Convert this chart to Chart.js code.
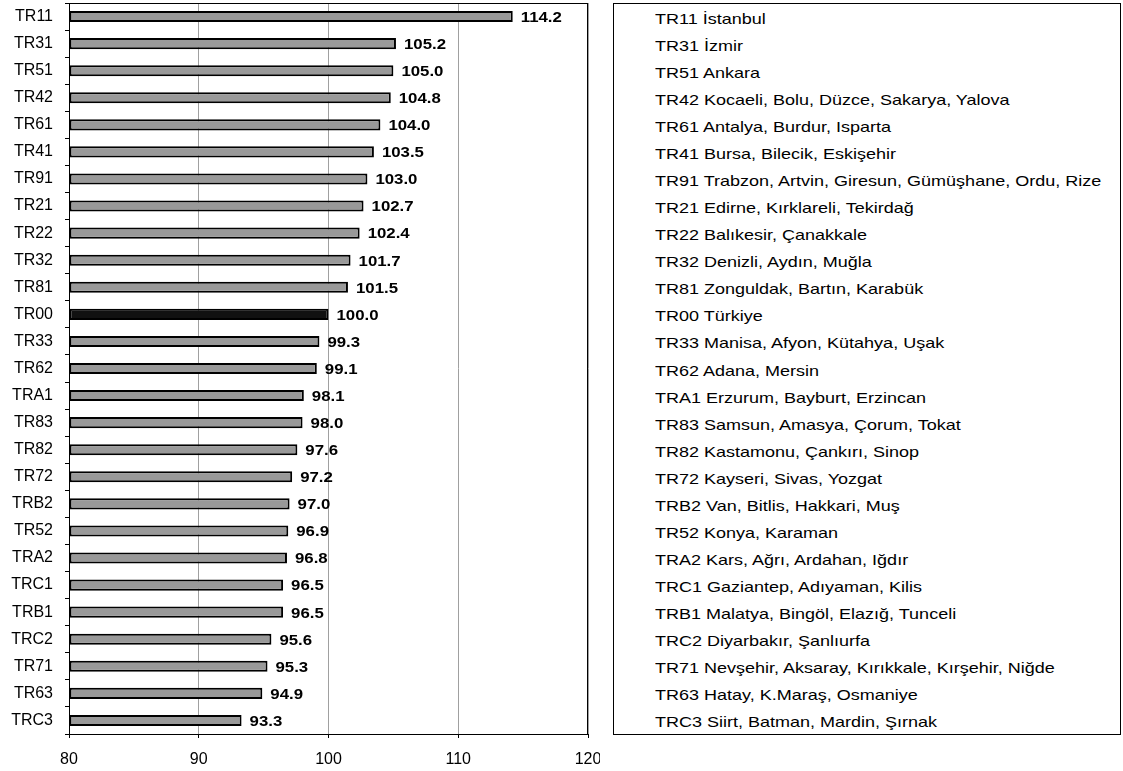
<!DOCTYPE html>
<html>
<head>
<meta charset="utf-8">
<script src="https://cdn.jsdelivr.net/npm/chart.js@4.4.0/dist/chart.umd.min.js"></script>
<style>
  body { margin: 0; background: #fff; font-family: "Liberation Sans", Arial, sans-serif; }
  #wrap { position: relative; width: 1123px; height: 771px; }
  #chart { position: absolute; left: 0; top: 0; }
  #names { position: absolute; left: 613px; top: 3px; width: 508px; height: 732px;
           border: 1px solid #000; box-sizing: border-box; }
  #names div { position: absolute; left: 41px; font-size: 15px; line-height: 16px; color: #000;
               white-space: nowrap; transform: scaleX(1.2); transform-origin: left top; }
</style>
</head>
<body>
<div id="wrap">
  <canvas id="chart" width="600" height="771"></canvas>
  <div id="names"></div>
</div>
<script>
// region codes, top to bottom
const codes = ['TR11', 'TR31', 'TR51', 'TR42', 'TR61', 'TR41', 'TR91', 'TR21', 'TR22', 'TR32',
  'TR81', 'TR00', 'TR33', 'TR62', 'TRA1', 'TR83', 'TR82', 'TR72', 'TRB2', 'TR52',
  'TRA2', 'TRC1', 'TRB1', 'TRC2', 'TR71', 'TR63', 'TRC3'];

// index values (Türkiye = 100)
const values = [114.2, 105.2, 105.0, 104.8, 104.0, 103.5, 103.0, 102.7, 102.4, 101.7,
  101.5, 100.0, 99.3, 99.1, 98.1, 98.0, 97.6, 97.2, 97.0, 96.9,
  96.8, 96.5, 96.5, 95.6, 95.3, 94.9, 93.3];

// region names shown in the right-hand box
const regionNames = ['İstanbul', 'İzmir', 'Ankara', 'Kocaeli, Bolu, Düzce, Sakarya, Yalova',
  'Antalya, Burdur, Isparta', 'Bursa, Bilecik, Eskişehir',
  'Trabzon, Artvin, Giresun, Gümüşhane, Ordu, Rize', 'Edirne, Kırklareli, Tekirdağ',
  'Balıkesir, Çanakkale', 'Denizli, Aydın, Muğla', 'Zonguldak, Bartın, Karabük', 'Türkiye',
  'Manisa, Afyon, Kütahya, Uşak', 'Adana, Mersin', 'Erzurum, Bayburt, Erzincan',
  'Samsun, Amasya, Çorum, Tokat', 'Kastamonu, Çankırı, Sinop', 'Kayseri, Sivas, Yozgat',
  'Van, Bitlis, Hakkari, Muş', 'Konya, Karaman', 'Kars, Ağrı, Ardahan, Iğdır',
  'Gaziantep, Adıyaman, Kilis', 'Malatya, Bingöl, Elazığ, Tunceli', 'Diyarbakır, Şanlıurfa',
  'Nevşehir, Aksaray, Kırıkkale, Kırşehir, Niğde', 'Hatay, K.Maraş, Osmaniye',
  'Siirt, Batman, Mardin, Şırnak'];

const xTicks = [80, 90, 100, 110, 120];

const FONT = '"Liberation Sans", Arial, sans-serif';

// value labels at the end of each bar + black frame round the plot
const labelPlugin = {
  id: 'barLabels',
  afterDraw(chart) {
    const ctx = chart.ctx;
    const area = chart.chartArea;
    ctx.save();
    ctx.strokeStyle = '#000';
    ctx.lineWidth = 1;
    ctx.strokeRect(Math.round(area.left) + 0.5, Math.round(area.top) + 0.5,
      Math.round(area.right - area.left) - 1, Math.round(area.bottom - area.top));
    const meta = chart.getDatasetMeta(0);
    ctx.font = 'bold 14px ' + FONT;
    ctx.fillStyle = '#000';
    ctx.textBaseline = 'middle';
    meta.data.forEach((bar, i) => {
      ctx.save();
      ctx.translate(bar.x + 8, bar.y + 1.5);
      ctx.scale(1.2, 1);
      ctx.fillText(values[i].toFixed(1), 0, 0);
      ctx.restore();
    });
    ctx.restore();

    // put the name rows on the same lines as the bars
    const box = document.getElementById('names');
    if (!box.childElementCount) {
      meta.data.forEach((bar, i) => {
        const row = document.createElement('div');
        row.textContent = codes[i] + ' ' + regionNames[i];
        row.style.top = (bar.y - 10) + 'px';
        box.appendChild(row);
      });
    }
  }
};

new Chart(document.getElementById('chart'), {
  type: 'bar',
  data: {
    labels: codes,
    datasets: [{
      data: values,
      base: 80,
      backgroundColor: codes.map(c => c === 'TR00' ? '#111' : '#999'),
      borderColor: '#000',
      borderWidth: 2,
      borderSkipped: false,
      categoryPercentage: 1,
      barPercentage: 0.41
    }]
  },
  options: {
    indexAxis: 'y',
    responsive: false,
    animation: false,
    layout: { padding: { top: 3, right: 12, left: 0, bottom: 0 } },
    plugins: { legend: { display: false }, tooltip: { enabled: false } },
    scales: {
      x: {
        min: 80,
        max: 120,
        afterBuildTicks: scale => { scale.ticks = xTicks.map(v => ({ value: v })); },
        afterFit: scale => { scale.height = 37; scale.paddingLeft = 0; scale.paddingRight = 0; },
        grid: { color: '#a0a0a0', tickColor: '#000', tickLength: 4, lineWidth: 1 },
        border: { color: '#000', width: 1 },
        ticks: { color: '#000', padding: 12, font: { family: FONT, size: 16 } }
      },
      y: {
        afterFit: scale => { scale.width = 69; scale.paddingTop = 0; scale.paddingBottom = 0; },
        grid: { offset: true, drawOnChartArea: false, tickColor: '#000', tickLength: 4 },
        border: { color: '#000', width: 1 },
        ticks: { color: '#000', padding: 12, font: { family: FONT, size: 16 } }
      }
    }
  },
  plugins: [labelPlugin]
});
</script>
</body>
</html>
